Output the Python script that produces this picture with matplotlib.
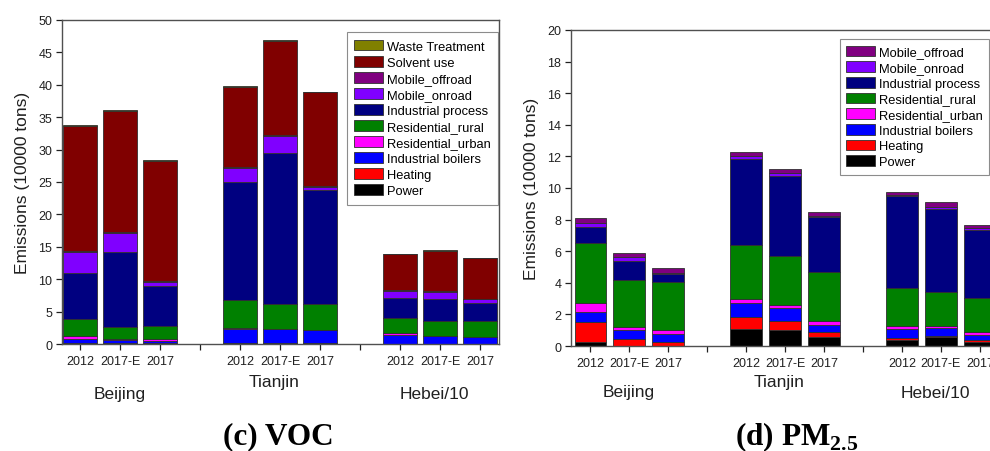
import matplotlib
matplotlib.use("Agg")
import matplotlib.pyplot as plt
import matplotlib.transforms as mtransforms
import numpy as np

plt.rcParams['font.family'] = ['Liberation Sans', 'DejaVu Sans']
plt.rcParams['mathtext.fontset'] = 'custom'
plt.rcParams['mathtext.bf'] = 'Liberation Serif:bold'
plt.rcParams['mathtext.rm'] = 'Liberation Serif:bold'

# ---------------- data ----------------
years = ["2012", "2017-E", "2017"]
regions = ["Beijing", "Tianjin", "Hebei/10"]

# VOC (10000 tons), bars: BJ 2012, 2017-E, 2017, TJ ..., HB/10 ...
voc_sectors = ["Power", "Heating", "Industrial boilers", "Residential_urban",
               "Residential_rural", "Industrial process", "Mobile_onroad",
               "Mobile_offroad", "Solvent use", "Waste Treatment"]
voc_power = [0.05, 0.05, 0.05, 0.15, 0.15, 0.15, 0.05, 0.05, 0.05]
voc_heating = [0.05, 0.05, 0.05, 0.05, 0.05, 0.05, 0.02, 0.02, 0.02]
voc_ind_boilers = [0.60, 0.45, 0.40, 2.15, 2.05, 1.90, 1.33, 1.13, 0.98]
voc_res_urban = [0.50, 0.25, 0.25, 0.15, 0.10, 0.10, 0.30, 0.10, 0.10]
voc_res_rural = [2.65, 1.90, 2.00, 4.30, 3.85, 4.00, 2.30, 2.20, 2.35]
voc_ind_process = [7.15, 11.55, 6.15, 18.15, 23.30, 17.50, 3.05, 3.40, 2.90]
voc_mob_onroad = [3.20, 2.95, 0.70, 2.15, 2.60, 0.60, 1.15, 1.20, 0.50]
voc_mob_offroad = [0.15, 0.15, 0.10, 0.15, 0.15, 0.10, 0.10, 0.10, 0.10]
voc_solvent = [19.35, 18.65, 18.60, 12.45, 14.55, 14.50, 5.60, 6.20, 6.20]
voc_waste = [0.05, 0.05, 0.05, 0.05, 0.05, 0.05, 0.05, 0.05, 0.05]

# PM2.5 (10000 tons)
pm_sectors = ["Power", "Heating", "Industrial boilers", "Residential_urban",
              "Residential_rural", "Industrial process", "Mobile_onroad",
              "Mobile_offroad"]
pm_power = [0.23, 0.02, 0.02, 1.08, 1.03, 0.59, 0.37, 0.55, 0.27]
pm_heating = [1.31, 0.44, 0.25, 0.74, 0.53, 0.32, 0.16, 0.10, 0.13]
pm_ind_boilers = [0.61, 0.54, 0.49, 0.88, 0.83, 0.42, 0.57, 0.49, 0.30]
pm_res_urban = [0.55, 0.20, 0.25, 0.27, 0.23, 0.23, 0.19, 0.15, 0.21]
pm_res_rural = [3.80, 3.00, 3.02, 3.44, 3.10, 3.10, 2.37, 2.15, 2.11]
pm_ind_process = [1.05, 1.20, 0.52, 5.43, 5.02, 3.48, 5.81, 5.23, 4.34]
pm_mob_onroad = [0.25, 0.22, 0.07, 0.16, 0.21, 0.08, 0.11, 0.13, 0.09]
pm_mob_offroad = [0.30, 0.25, 0.31, 0.26, 0.25, 0.28, 0.19, 0.29, 0.21]

sector_colors = {
    "Power": "#000000", "Heating": "#FF0000", "Industrial boilers": "#0000FF",
    "Residential_urban": "#FF00FF", "Residential_rural": "#008000",
    "Industrial process": "#000080", "Mobile_onroad": "#8000FF",
    "Mobile_offroad": "#800080", "Solvent use": "#800000",
    "Waste Treatment": "#808000",
}

voc_data = [voc_power, voc_heating, voc_ind_boilers, voc_res_urban, voc_res_rural,
            voc_ind_process, voc_mob_onroad, voc_mob_offroad, voc_solvent, voc_waste]
pm_data = [pm_power, pm_heating, pm_ind_boilers, pm_res_urban, pm_res_rural,
           pm_ind_process, pm_mob_onroad, pm_mob_offroad]

# ---------------- layout ----------------
W, H = 990, 452
fig = plt.figure(figsize=(W / 100, H / 100), dpi=100)

bar_pos = np.array([0, 1, 2, 4, 5, 6, 8, 9, 10], dtype=float)
sep_pos = [3, 7]
group_centers = [1, 5, 9]

spine_col = "#505050"


def draw(ax, sectors, data, ylim, yticks, width, legend_anchor, legend_loc,
         labelspacing, borderpad):
    bottom = np.zeros(len(bar_pos))
    handles = []
    for name, vals in zip(sectors, data):
        vals = np.array(vals, dtype=float)
        b = ax.bar(bar_pos, vals, width=width, bottom=bottom,
                   color=sector_colors[name], edgecolor="#303030",
                   linewidth=0.6, label=name, zorder=2)
        handles.append(b)
        bottom += vals
    ax.set_ylim(*ylim)
    ax.set_yticks(yticks)
    ax.set_xticks(list(bar_pos) + sep_pos)
    ax.set_xticklabels(years * 3 + ["", ""])
    ax.tick_params(axis="both", direction="out", length=4, width=0.9,
                   colors="#202020", labelsize=9, pad=3)
    ax.tick_params(axis="x", pad=4)
    for s in ax.spines.values():
        s.set_color(spine_col)
        s.set_linewidth(1.0)
    ax.set_ylabel("Emissions (10000 tons)", fontsize=12.5, labelpad=6,
                  color="#202020")
    leg = ax.legend(handles[::-1], sectors[::-1], loc=legend_loc,
                    bbox_to_anchor=legend_anchor, fontsize=9.3, frameon=True,
                    fancybox=False, edgecolor="#707070", handlelength=2.2,
                    handleheight=0.9, labelspacing=labelspacing,
                    handletextpad=0.3, borderpad=borderpad, borderaxespad=0)
    leg.get_frame().set_linewidth(0.8)
    return ax


# left: VOC
axL = fig.add_axes([62 / W, 1 - 345 / H, (499 - 62) / W, (345 - 21) / H])
axL.set_xlim(-0.45, 10.475)
draw(axL, voc_sectors, voc_data, (0, 50), np.arange(0, 51, 5), 0.83,
     (0.998, 0.963), "upper right", 0.25, 0.6)

# right: PM2.5 (axes extends past figure edge)
axR = fig.add_axes([571 / W, 1 - 347 / H, 428 / W, (347 - 31) / H])
axR.set_xlim(-0.49, 10.49)
draw(axR, pm_sectors, pm_data, (0, 20), np.arange(0, 21, 2), 0.8,
     (0.628, 0.971), "upper left", 0.22, 0.5)

# group labels
for ax, ys in ((axL, (395, 383, 395)), (axR, (393, 383, 394))):
    tr = mtransforms.blended_transform_factory(ax.transData, fig.transFigure)
    for xc, name, yp in zip(group_centers, regions, ys):
        ax.text(xc - (0.15 if name != "Beijing" else 0), 1 - yp / H, name,
                transform=tr, ha="center", va="center", fontsize=12.5,
                color="#202020")

# panel titles
fig.text(278 / W, 1 - 437 / H, "(c) VOC", ha="center", va="center",
         fontsize=22.5, family="Liberation Serif", weight="bold")
fig.text(797 / W, 1 - 437 / H, r"(d) PM$_{\mathbf{2.5}}$", ha="center",
         va="center", fontsize=22.5, family="Liberation Serif", weight="bold")

fig.savefig("out.png", dpi=100)
